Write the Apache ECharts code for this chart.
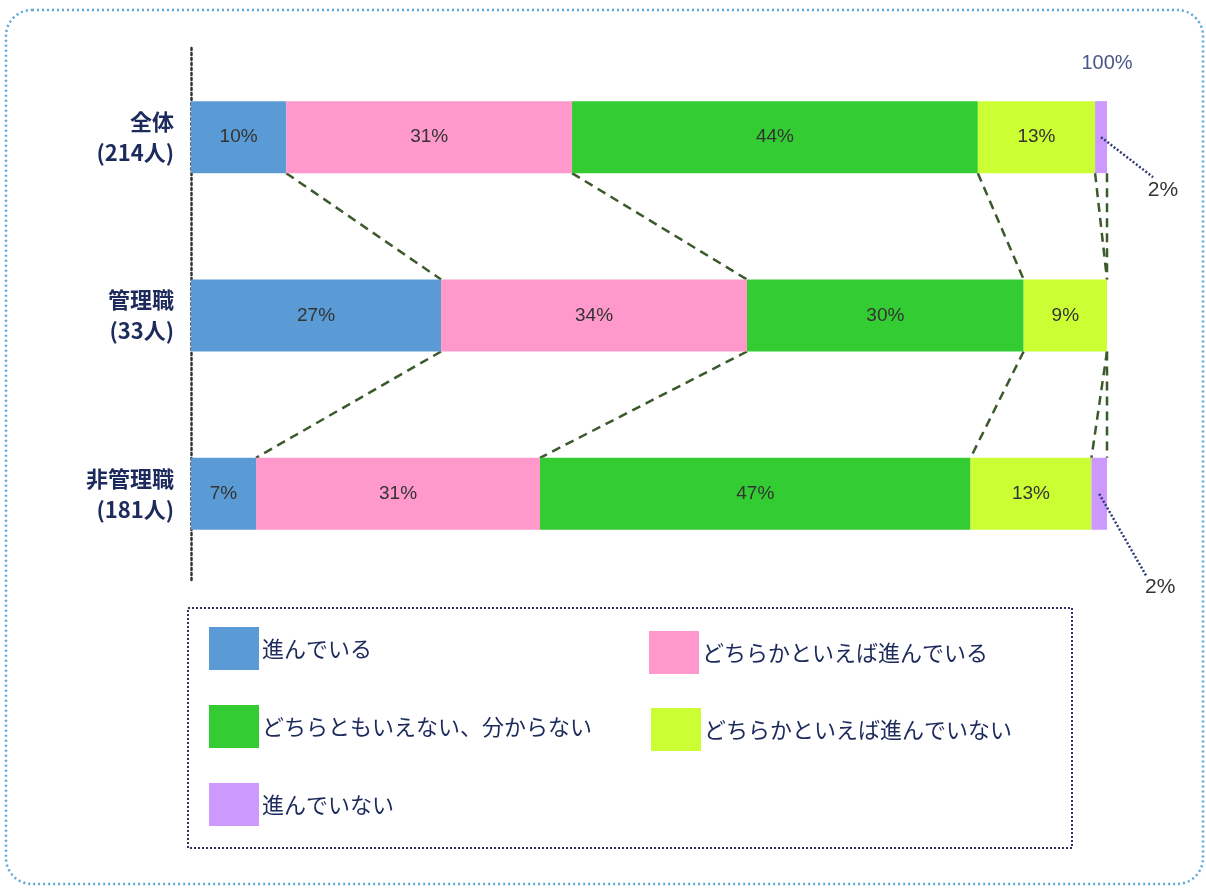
<!DOCTYPE html>
<html>
<head>
<meta charset="utf-8">
<script src="https://cdn.jsdelivr.net/npm/echarts@6/dist/echarts.min.js"></script>
<style>
  html, body { margin: 0; padding: 0; background: #fff; }
  #main { width: 1206px; height: 888px; }
</style>
</head>
<body>
<div id="main"></div>
<script>
// 対象グループ
const categories = ['全体\n(214人)', '管理職\n(33人)', '非管理職\n(181人)']
// 回答区分
const seriesNames = ['進んでいる', 'どちらかといえば進んでいる', 'どちらともいえない、分からない', 'どちらかといえば進んでいない', '進んでいない']
// 各区分の割合(%) 棒の長さから読み取り
const susunde = [10.4, 27.3, 7.1]
const dochiraSusunde = [31.2, 33.4, 31.0]
const dochiraTomo = [44.3, 30.2, 47.0]
const dochiraSusundeNai = [12.8, 9.1, 13.2]
const susundeNai = [1.3, 0, 1.7]
// 図中に表示されている数値
const susundeLabel = ['10%', '27%', '7%']
const dochiraSusundeLabel = ['31%', '34%', '31%']
const dochiraTomoLabel = ['44%', '30%', '47%']
const dochiraSusundeNaiLabel = ['13%', '9%', '13%']
const susundeNaiLabel = ['2%', '', '2%']

const values = [susunde, dochiraSusunde, dochiraTomo, dochiraSusundeNai, susundeNai]
const labels = [susundeLabel, dochiraSusundeLabel, dochiraTomoLabel, dochiraSusundeNaiLabel, susundeNaiLabel]
const colors = ['#5b9bd5', '#ff99cc', '#33cc33', '#ccff33', '#cc99ff']
const barWidth = 72

// 区切り線用の累積値
const cum = categories.map((c, i) => {
  let s = 0
  return values.map(v => (s += v[i]))
})
const linkData = []
for (let i = 0; i < categories.length - 1; i++) {
  for (let k = 0; k < values.length; k++) {
    linkData.push([cum[i][k], cum[i + 1][k], i, i + 1])
  }
}

// 「進んでいない」の外側ラベル（引出線の先・ラベル中心のずらし量）
const outerLineEnd = [[52, 40], null, [47, 82]]
const outerLabelPos = [[62, 53], null, [61, 93]]
const outerData = []
categories.forEach((c, i) => {
  if (susundeNai[i] > 0) outerData.push([cum[i][3], cum[i][4], i, susundeNaiLabel[i]])
})

const barSeries = seriesNames.map((name, idx) => ({
  name: name,
  type: 'bar',
  stack: 'total',
  barWidth: barWidth,
  data: values[idx],
  itemStyle: {color: colors[idx]},
  label: {
    show: idx < 4,
    position: 'inside',
    formatter: p => labels[idx][p.dataIndex],
    color: '#333',
    fontSize: 19,
    fontFamily: 'Liberation Sans, Noto Sans CJK JP, sans-serif'
  }
}))

// 凡例の配置
const legendPos = [[209, 627], [649, 631], [209, 705], [651, 708], [209, 783]]
const legends = seriesNames.map((name, i) => ({
  data: [name],
  left: legendPos[i][0],
  top: legendPos[i][1],
  padding: 0,
  itemWidth: 50,
  itemHeight: 43,
  icon: 'rect',
  selectedMode: false,
  textStyle: {
    fontSize: 22,
    color: '#1c2a5c',
    fontFamily: 'Noto Sans CJK JP',
    padding: [0, 0, 0, -2]
  }
}))

const chart = echarts.init(document.getElementById('main'))
chart.setOption({
  animation: false,
  backgroundColor: '#fff',
  grid: {left: 191, right: 99, top: 48, height: 535},
  legend: legends,
  xAxis: {
    type: 'value',
    position: 'top',
    min: 0,
    max: 100,
    interval: 100,
    splitLine: {show: false},
    axisLine: {show: false},
    axisTick: {show: false},
    axisLabel: {
      inside: true,
      margin: 5,
      formatter: v => v === 100 ? '100%' : '',
      color: '#4a5688',
      fontSize: 20,
      fontFamily: 'Liberation Sans, sans-serif'
    }
  },
  yAxis: {
    type: 'category',
    data: categories,
    inverse: true,
    axisTick: {show: false},
    axisLine: {
      show: true,
      lineStyle: {type: [2, 3], color: '#333', width: 2.5}
    },
    axisLabel: {
      margin: 17,
      fontSize: 22,
      fontWeight: 'bold',
      lineHeight: 31,
      color: '#1c2a5c',
      fontFamily: 'Noto Sans CJK JP'
    }
  },
  graphic: [
    {
      type: 'rect',
      shape: {x: 6, y: 10, width: 1197, height: 874, r: 26},
      style: {fill: null, stroke: '#5aa8d8', lineWidth: 2.5, lineDash: [2, 3]},
      z: -1
    },
    {
      type: 'rect',
      shape: {x: 188, y: 608, width: 884, height: 240},
      style: {fill: null, stroke: '#2e3566', lineWidth: 2, lineDash: [2, 2]},
      z: -1
    }
  ],
  series: barSeries.concat([
    {
      // 棒の間の破線
      type: 'custom',
      silent: true,
      encode: {x: [0, 1], y: 2},
      data: linkData,
      renderItem: function (params, api) {
        const a = api.coord([api.value(0), api.value(2)])
        const b = api.coord([api.value(1), api.value(3)])
        const h = barWidth / 2
        return {
          type: 'line',
          shape: {x1: a[0], y1: a[1] + h, x2: b[0], y2: b[1] - h},
          style: {stroke: '#3b5a2c', lineWidth: 2.5, lineDash: [9, 6]}
        }
      }
    },
    {
      // 2%の引出線とラベル
      type: 'custom',
      silent: true,
      z: 5,
      encode: {x: [0, 1], y: 2},
      data: outerData,
      renderItem: function (params, api) {
        const cat = api.value(2)
        const p = api.coord([(api.value(0) + api.value(1)) / 2, cat])
        const e = outerLineEnd[cat]
        const t = outerLabelPos[cat]
        return {
          type: 'group',
          children: [
            {
              type: 'line',
              shape: {x1: p[0], y1: p[1], x2: p[0] + e[0], y2: p[1] + e[1]},
              style: {stroke: '#2e3a7a', lineWidth: 2.5, lineDash: [2, 2]}
            },
            {
              type: 'text',
              x: p[0] + t[0],
              y: p[1] + t[1],
              style: {
                text: outerData[params.dataIndex][3],
                fill: '#333',
                fontSize: 21,
                fontFamily: 'Liberation Sans, sans-serif',
                align: 'center',
                verticalAlign: 'middle'
              }
            }
          ]
        }
      }
    }
  ])
})
</script>
</body>
</html>
